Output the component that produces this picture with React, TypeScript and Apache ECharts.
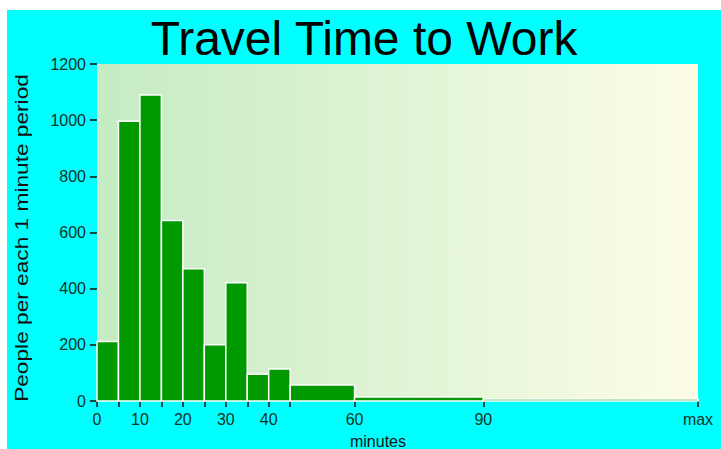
import React, { useEffect, useRef } from "react";
import * as echarts from "echarts";

// histogram bins: start minute, end minute, people per 1-minute period
const binStart = [0, 5, 10, 15, 20, 25, 30, 35, 40, 45, 60, 90];
const binEnd = [5, 10, 15, 20, 25, 30, 35, 40, 45, 60, 90, 140];
const people = [212, 996, 1090, 643, 471, 200, 421, 95, 114, 57, 14, 7];
const xTickValues = [0, 5, 10, 15, 20, 25, 30, 35, 40, 45, 60, 90, 140];
const xLabelValues = [0, 10, 20, 30, 40, 60, 90, 140];

export default function App() {
  const ref = useRef<HTMLDivElement>(null);
  useEffect(() => {
    document.body.style.margin = "0";
    document.body.style.overflow = "hidden";
    document.documentElement.style.overflow = "hidden";
    const chart = echarts.init(ref.current!, null, { renderer: "svg" });
    const data = binStart.map((s, i) => [s, binEnd[i], people[i]]);
    const font = "Liberation Sans";
    chart.setOption({
      animation: false,
      backgroundColor: "#00ffff",
      title: {
        text: "Travel Time to Work",
        left: 357,
        top: 4,
        textAlign: "center",
        padding: 0,
        textStyle: { fontFamily: font, fontSize: 48, fontWeight: "normal", color: "#000" },
      },
      grid: {
        left: 90,
        top: 54,
        width: 601,
        height: 337,
        show: true,
        borderWidth: 0,
        backgroundColor: new echarts.graphic.LinearGradient(0, 0, 1, 0, [
          { offset: 0, color: "#c4ebc4" },
          { offset: 1, color: "#fdfde5" },
        ]),
      },
      xAxis: {
        type: "value",
        min: 0,
        max: 140,
        axisLine: { show: false },
        splitLine: { show: false },
        axisTick: {
          show: true,
          length: 6,
          customValues: xTickValues,
          lineStyle: { color: "#111", width: 1.5 },
        },
        axisLabel: {
          customValues: xLabelValues,
          margin: 10,
          fontFamily: font,
          fontSize: 16,
          color: "#0d3326",
          formatter: (v: number) => (v === 140 ? "max" : String(v)),
        },
      },
      yAxis: {
        type: "value",
        min: 0,
        max: 1200,
        interval: 200,
        axisLine: { show: false },
        splitLine: { show: false },
        axisTick: { show: true, length: 7, lineStyle: { color: "#111", width: 1.5 } },
        axisLabel: {
          margin: 11,
          fontFamily: font,
          fontSize: 16,
          color: "#0d3326",
          formatter: (v: number) => String(v),
        },
      },
      graphic: [
        {
          type: "text",
          x: 14,
          y: 228,
          rotation: Math.PI / 2,
          scaleX: 1.26,
          style: {
            text: "People per each 1 minute period",
            fontFamily: font,
            fontSize: 18,
            fill: "#111",
            align: "center",
            verticalAlign: "middle",
          },
        },
        {
          type: "text",
          x: 371,
          y: 439,
          style: {
            text: "minutes",
            fontFamily: font,
            fontSize: 16,
            fill: "#111",
            align: "center",
            verticalAlign: "bottom",
          },
        },
      ],
      series: [
        {
          type: "custom",
          data,
          encode: { x: [0, 1], y: 2 },
          renderItem: (params: any, api: any) => {
            const p0 = api.coord([api.value(0), api.value(2)]);
            const p1 = api.coord([api.value(1), 0]);
            return {
              type: "rect",
              shape: { x: p0[0], y: p0[1], width: p1[0] - p0[0], height: p1[1] - p0[1] },
              style: { fill: "#009900", stroke: "#ffffff", lineWidth: 1.5 },
            };
          },
        },
      ],
    });
    return () => chart.dispose();
  }, []);
  return (
    <div
      ref={ref}
      style={{ position: "absolute", left: 7, top: 10, width: 720, height: 450 }}
    />
  );
}
